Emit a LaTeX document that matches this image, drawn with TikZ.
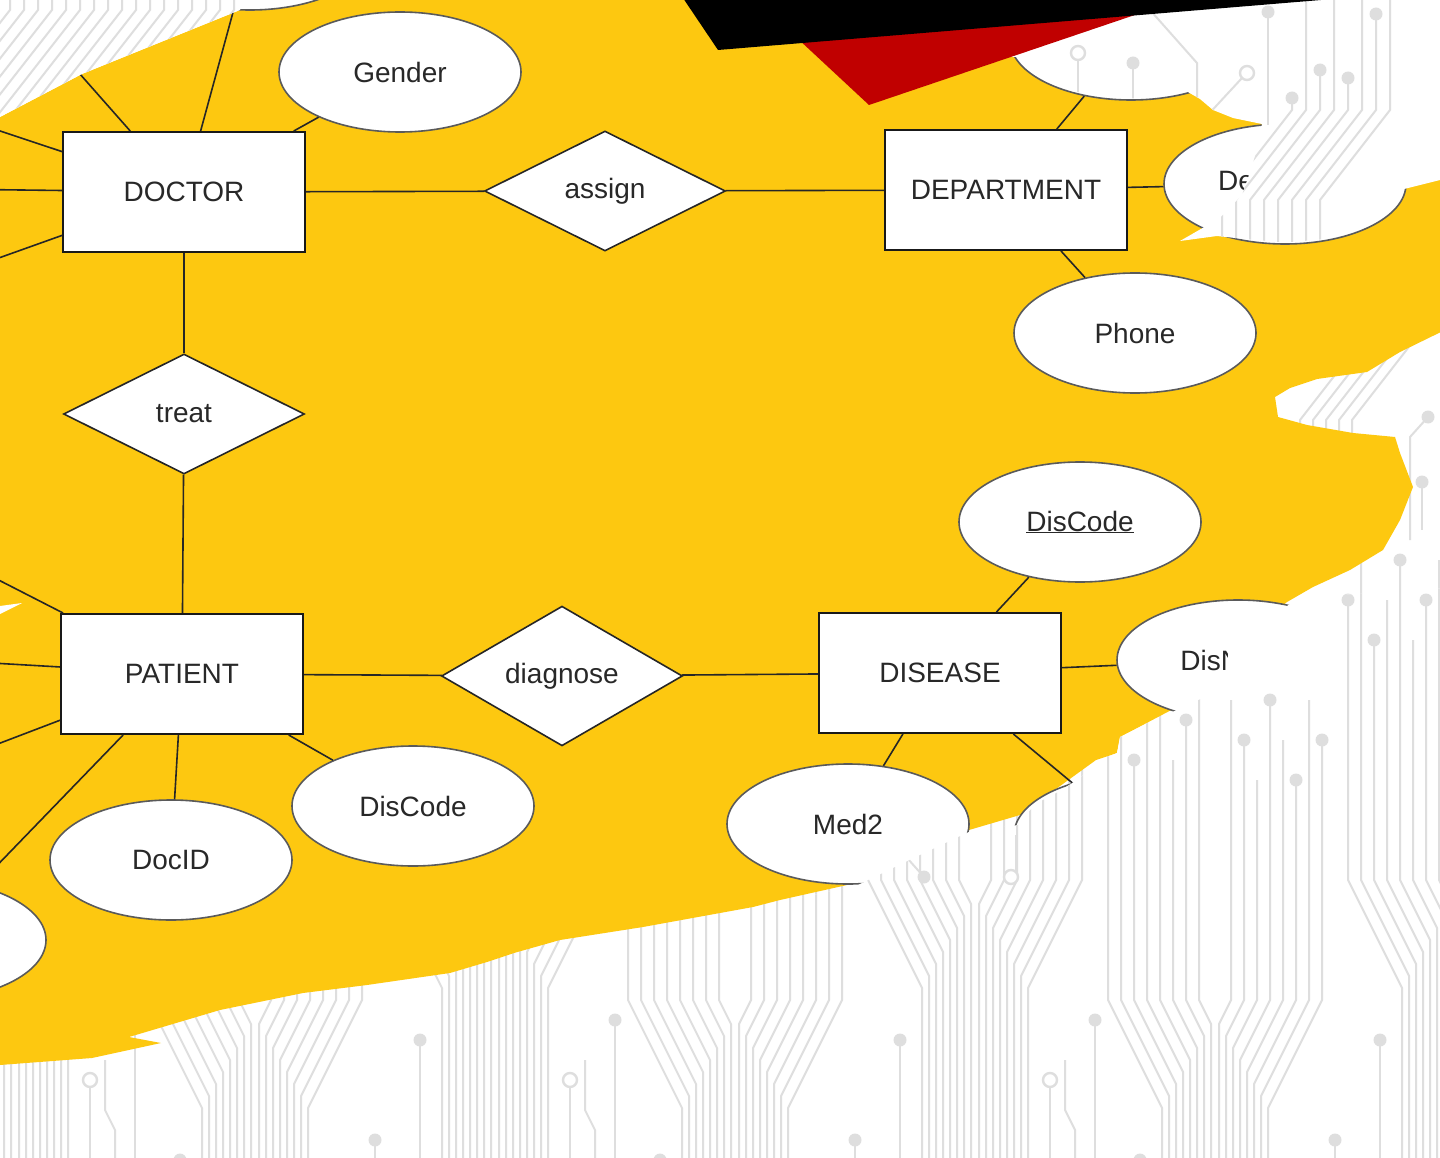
\documentclass[tikz,border=0pt]{standalone}
\usepackage{fontspec}
\setmainfont{Liberation Sans}
\usetikzlibrary{shapes.geometric}
\definecolor{ylw}{RGB}{253,200,16}
\definecolor{redc}{RGB}{192,0,0}
\definecolor{circg}{RGB}{222,222,222}
\definecolor{txt}{RGB}{40,40,40}
\definecolor{ellg}{RGB}{90,90,90}
\newcommand\lbl{\fontsize{28}{34}\selectfont}
\tikzset{
 circ/.style={draw=circg, line width=2pt},
 ringc/.style={draw=circg, line width=2.4pt, fill=white},
 entity/.style={rectangle, draw=black!90, line width=2pt, fill=white, minimum width=242pt, minimum height=120pt, inner sep=0pt, text=txt, font=\lbl},
 attr/.style={ellipse, draw=ellg, line width=1.6pt, fill=white, minimum width=242pt, minimum height=120pt, inner sep=0pt, text=txt, font=\lbl},
 rel/.style={diamond, draw=black!85, line width=1.6pt, fill=white, minimum width=241pt, minimum height=120pt, inner sep=0pt, text=txt, font=\lbl},
 link/.style={draw=black!85, line width=1.6pt},
}
\newcommand\chev[2]{%
 \foreach \i in {0,...,7}{%
  \pgfmathsetmacro\aa{16+13*\i}%
  \pgfmathsetmacro\bb{4+7*\i}%
  \pgfmathsetmacro\yd{#2+2*(\aa-\bb)}%
  \pgfmathsetmacro\yt{#2-320+mod(\i,3)*40}%
  \pgfmathsetmacro\ytr{\yt+20}%
  \draw[circ] (#1-\aa,\yt) -- (#1-\aa,#2) -- (#1-\bb,\yd) -- (#1-\bb,1170);
  \draw[circ] (#1+\aa,\ytr) -- (#1+\aa,#2) -- (#1+\bb,\yd) -- (#1+\bb,1170);
  \ifodd\i
   \fill[circg] (#1-\aa,\yt) circle[radius=6.5];
   \fill[circg] (#1+\aa,\ytr) circle[radius=6.5];
  \fi
 }%
 \draw[circ] (#1+120,#2+140) -- (#1+120,1170);
 \fill[circg] (#1+120,#2+140) circle[radius=6.5];
 \draw[circ] (#1+75,#2+207) -- (#1+75,1170);
 \draw[ringc] (#1+75,#2+200) circle[radius=7];
 \draw[circ] (#1+90,#2+180) -- (#1+90,#2+230) -- (#1+100,#2+250) -- (#1+100,1170);
 \draw[circ] (#1-75,#2+160) -- (#1-75,1170);
 \fill[circg] (#1-75,#2+160) circle[radius=6.5];
}
\newcommand\circuitall{%
 \chev{15}{880}\chev{495}{880}\chev{975}{880}\chev{1455}{880}%
 \chev{255}{1000}\chev{735}{1000}\chev{1215}{1000}%
 \foreach \i in {0,...,17}{\draw[circ] (10+14*\i,-5) -- (10+14*\i,10) -- (-80+14*\i,125);}%
 \foreach \i/\tp in {0/98,1/-10,2/70,3/-10,4/78,5/-10,6/14,7/-10}{%
   \draw[circ] (1222+14*\i,260) -- (1222+14*\i,200) -- (1292+14*\i,110) -- (1292+14*\i,\tp);
   \ifnum\tp>0 \fill[circg] (1292+14*\i,\tp) circle[radius=6.5];\fi}%
 \draw[circ] (1078,60) -- (1078,115);
 \draw[ringc] (1078,53) circle[radius=7];
 \draw[circ] (1133,63) -- (1133,110);
 \fill[circg] (1133,63) circle[radius=6.5];
 \draw[circ] (1150,10) -- (1197,63) -- (1197,140);
 \draw[circ] (1242,78) -- (1205,118) -- (1205,160);
 \draw[ringc] (1247,73) circle[radius=7];
 \draw[circ] (1268,12) -- (1268,125);
 \fill[circg] (1268,12) circle[radius=6.5];
 \draw[circ] (1428,417) -- (1410,437) -- (1410,540);
 \fill[circg] (1428,417) circle[radius=6.5];
 \draw[circ] (1422,482) -- (1422,530);
 \fill[circg] (1422,482) circle[radius=6.5];
 \foreach \i in {0,...,4}{\draw[circ] (1300+13*\i,480) -- (1300+13*\i,420) -- (1370+13*\i,330);}%
 \draw[circ] (1016,835) -- (1016,880);
 \draw[ringc] (1011,877) circle[radius=7];
 \fill[circg] (924,877) circle[radius=6.5];
 \draw[circ] (924,877) -- (900,850);
}
\begin{document}
\begin{tikzpicture}[x=1pt,y=-1pt]
\useasboundingbox (0,0) rectangle (1440,1158);
\clip (0,0) rectangle (1440,1158);
\fill[white] (0,0) rectangle (1440,1158);
\circuitall
% yellow blob
\fill[ylw] (0,117) -- (82,74) -- (240,10) -- (252,-2) -- (1445,-2) -- (1445,330)
 -- (1400,352) -- (1367,372) -- (1317,379) -- (1290,388) -- (1275,397) -- (1278,417)
 -- (1307,425) -- (1353,433) -- (1395,437) -- (1400,453) -- (1413,487) -- (1400,520)
 -- (1383,550) -- (1350,570) -- (1313,587) -- (1287,602) -- (1240,640) -- (1200,690)
 -- (1177,707) -- (1120,737) -- (1117,753) -- (1096,760) -- (1020,815) -- (969,830)
 -- (856,883) -- (780,900) -- (753,907) -- (643,927) -- (560,940) -- (514,953)
 -- (487,962) -- (450,973) -- (367,985) -- (303,993) -- (220,1010) -- (129,1037)
 -- (161,1043) -- (92,1058) -- (0,1065) -- cycle;
\fill[white] (0,606) -- (22,603) -- (0,614) -- cycle;
% nodes
\node[entity] (doctor) at (184,192) {DOCTOR};
\node[entity] (dept) at (1006,190) {DEPARTMENT};
\node[entity] (patient) at (182,674) {PATIENT};
\node[entity] (disease) at (940,673) {DISEASE};
\node[rel] (assign) at (605,191) {assign};
\node[rel] (treat) at (184,414) {treat};
\node[rel] (diagnose) at (562,676) {diagnose};
\node[attr] (gender) at (400,72) {Gender};
\node[attr] (dtop) at (250,-50) {};
\node[attr] (deptop) at (1131,40) {};
\node[attr] (deptname) at (1285,184) {DeptName};
\node[attr] (phone) at (1135,333) {Phone};
\node[attr] (dcode) at (1080,522) {\underline{DisCode}};
\node[attr] (disname) at (1238,660) {DisName};
\node[attr] (med2) at (848,824) {Med2};
\node[attr] (dislow) at (1135,835) {};
\node[attr] (pcode) at (413,806) {DisCode};
\node[attr] (docid) at (171,860) {DocID};
\node[attr] (pleft) at (-75,940) {};
\coordinate (d1) at (-60,111);
\coordinate (d2) at (-60,189);
\coordinate (d3) at (-60,279);
\coordinate (d4) at (-3,-20);
\coordinate (p1) at (-60,550);
\coordinate (p2) at (-60,660);
\coordinate (p3) at (-60,766);
% connectors
\draw[link] (doctor) -- (assign);
\draw[link] (assign) -- (dept);
\draw[link] (doctor) -- (treat);
\draw[link] (treat) -- (patient);
\draw[link] (patient) -- (diagnose);
\draw[link] (diagnose) -- (disease);
\draw[link] (doctor) -- (gender);
\draw[link] (doctor) -- (dtop);
\draw[link] (doctor) -- (d1);
\draw[link] (doctor) -- (d2);
\draw[link] (doctor) -- (d3);
\draw[link] (doctor) -- (d4);
\draw[link] (dept) -- (deptop);
\draw[link] (dept) -- (deptname);
\draw[link] (dept) -- (phone);
\draw[link] (disease) -- (dcode);
\draw[link] (disease) -- (disname);
\draw[link] (disease) -- (med2);
\draw[link] (disease) -- (dislow);
\draw[link] (patient) -- (pcode);
\draw[link] (patient) -- (docid);
\draw[link] (patient) -- (pleft);
\draw[link] (patient) -- (p1);
\draw[link] (patient) -- (p2);
\draw[link] (patient) -- (p3);
% overlays: top-left
\begin{scope}
\clip (-5,-5) -- (246,-5) -- (240,10) -- (82,74) -- (0,117) -- (-5,117) -- cycle;
\fill[white] (0,0) rectangle (1440,1158);
\circuitall
\end{scope}
% overlay top-right
\begin{scope}
\clip (1195,-3) -- (1010,57) -- (1017,57) -- (1028,69) -- (1047,81) -- (1072,91) -- (1100,96.5)
 -- (1131,98.5) -- (1162,96.5) -- (1187,91.5) -- (1200,99) -- (1213,110) -- (1233,118)
 -- (1262,124) -- (1257,150) -- (1250,172) -- (1242,195) -- (1220,218) -- (1180,241)
 -- (1217,236) -- (1244,239) -- (1285,242.5) -- (1326,239) -- (1361,229) -- (1388,213)
 -- (1400,199) -- (1404,189) -- (1440,180) -- (1445,180) -- (1445,-3) -- cycle;
\fill[white] (0,0) rectangle (1440,1158);
\circuitall
\end{scope}
% overlay bottom-right
\begin{scope}
\clip (1445,588) -- (1300,598) -- (1287,606) -- (1262,604) -- (1242,606) -- (1232,616)
 -- (1229,645) -- (1226,680) -- (1205,697) -- (1179,709) -- (1150,722) -- (1120,737)
 -- (1117,753) -- (1096,762) -- (1080,778) -- (1060,791) -- (1039,802) -- (1025,815)
 -- (1018,825) -- (969,832) -- (920,855) -- (856,886) -- (780,902) -- (780,1165)
 -- (1445,1165) -- cycle;
\fill[white] (0,0) rectangle (1440,1158);
\circuitall
\end{scope}
% red and black shapes
\fill[redc] (754,-2) -- (869,105) -- (1185,-2) -- cycle;
\fill[black] (683,-2) -- (718,50) -- (1345,-2) -- cycle;
\end{tikzpicture}
\end{document}
